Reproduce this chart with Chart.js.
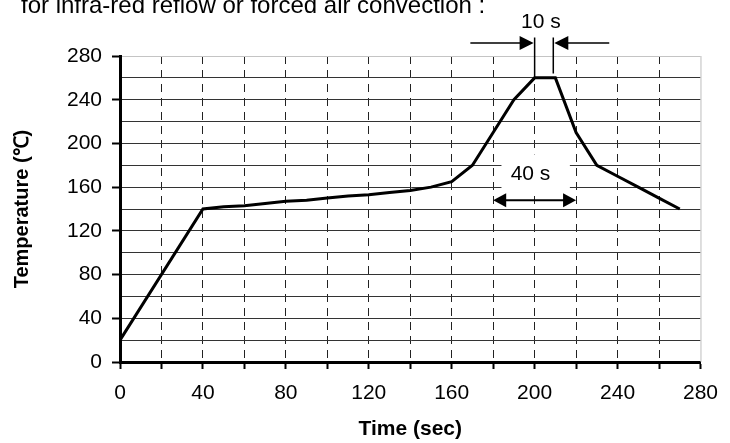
<!DOCTYPE html>
<html>
<head>
<meta charset="utf-8">
<script src="https://cdn.jsdelivr.net/npm/chart.js@4.4.1/dist/chart.umd.min.js"></script>
<style>
  html, body { margin: 0; padding: 0; background: #fff; }
</style>
</head>
<body>
<canvas id="myChart" width="730" height="443"></canvas>
<script>
// reflow profile
const timeSec = [0, 40, 50, 60, 70, 80, 90, 100, 110, 120, 130, 140, 150, 160, 170, 180, 190, 200, 210, 220, 230, 240, 250, 260, 270];
const tempC   = [20, 140, 142, 143, 145, 147, 148, 150, 152, 153, 155, 157, 160, 165, 180, 210, 240, 260, 260, 210, 180, 170, 160, 150, 140];

const xLabels = [0, 40, 80, 120, 160, 200, 240, 280];
const yLabels = [0, 40, 80, 120, 160, 200, 240, 280];

const headText = 'for infra-red reflow or forced air convection :';
const peakText = '10 s';
const spanText = '40 s';
const peakEdges = [200, 209];   // time at the two marker lines
const spanEdges = [180, 220];   // time span of the 40 s arrow

const FONT = '"Liberation Sans", Arial, sans-serif';

// arrow head helper
function arrowHead(ctx, tipX, y, dir, len, half) {
    ctx.beginPath();
    ctx.moveTo(tipX, y);
    ctx.lineTo(tipX - dir * len, y - half);
    ctx.lineTo(tipX - dir * len, y + half);
    ctx.closePath();
    ctx.fill();
}

const notes = {
    id: 'notes',
    beforeDatasetsDraw(chart) {
        const {ctx, scales: {x, y}} = chart;
        // white patch behind the "40 s" label
        ctx.save();
        ctx.fillStyle = '#fff';
        const l = x.getPixelForValue(184), r = x.getPixelForValue(217);
        const t = y.getPixelForValue(190), b = y.getPixelForValue(157);
        ctx.fillRect(l, t, r - l, b - t);
        ctx.restore();
    },
    afterDatasetsDraw(chart) {
        const {ctx, chartArea, scales: {x, y}} = chart;
        ctx.save();

        // light right frame
        ctx.strokeStyle = '#bdbdbd';
        ctx.lineWidth = 1;
        ctx.beginPath();
        ctx.moveTo(chartArea.right + 0.5, chartArea.top);
        ctx.lineTo(chartArea.right + 0.5, chartArea.bottom);
        ctx.stroke();

        ctx.fillStyle = '#000';
        ctx.strokeStyle = '#000';

        // heading, cut at the top edge
        ctx.font = '24px ' + FONT;
        ctx.textAlign = 'left';
        ctx.textBaseline = 'alphabetic';
        ctx.fillText(headText, 21, 13);

        // 10 s marker
        const p0 = x.getPixelForValue(peakEdges[0]);
        const p1 = x.getPixelForValue(peakEdges[1]);
        const topY = y.getPixelForValue(297);
        ctx.lineWidth = 1.5;
        ctx.beginPath();
        ctx.moveTo(p0, topY);
        ctx.lineTo(p0, y.getPixelForValue(260));
        ctx.moveTo(p1, topY);
        ctx.lineTo(p1, y.getPixelForValue(264));
        ctx.stroke();

        const ay = y.getPixelForValue(292);
        ctx.beginPath();
        ctx.moveTo(x.getPixelForValue(169), ay);
        ctx.lineTo(p0 - 10, ay);
        ctx.moveTo(x.getPixelForValue(236), ay);
        ctx.lineTo(p1 + 10, ay);
        ctx.stroke();
        arrowHead(ctx, p0 - 1, ay, 1, 14, 7);
        arrowHead(ctx, p1 + 1, ay, -1, 14, 7);

        ctx.font = '21px ' + FONT;
        ctx.textAlign = 'center';
        ctx.textBaseline = 'middle';
        ctx.fillText(peakText, x.getPixelForValue(203), 22);

        // 40 s span
        const s0 = x.getPixelForValue(spanEdges[0]);
        const s1 = x.getPixelForValue(spanEdges[1]);
        const sy = y.getPixelForValue(148);
        ctx.lineWidth = 2;
        ctx.beginPath();
        ctx.moveTo(s0 + 10, sy);
        ctx.lineTo(s1 - 10, sy);
        ctx.stroke();
        arrowHead(ctx, s0, sy, -1, 13, 7);
        arrowHead(ctx, s1, sy, 1, 13, 7);
        ctx.fillText(spanText, x.getPixelForValue(198), y.getPixelForValue(172));

        ctx.restore();
    }
};

const ctx = document.getElementById('myChart').getContext('2d');
const myChart = new Chart(ctx, {
    type: 'line',
    data: {
        datasets: [{
            data: timeSec.map((t, i) => ({x: t, y: tempC[i]})),
            borderColor: '#000',
            borderWidth: 3,
            pointRadius: 0,
            tension: 0,
            fill: false
        }]
    },
    options: {
        responsive: false,
        animation: false,
        devicePixelRatio: 1,
        layout: { padding: { left: 0, top: 56, right: 22, bottom: 0 } },
        plugins: { legend: { display: false }, tooltip: { enabled: false } },
        scales: {
            x: {
                type: 'linear',
                min: 0,
                max: 280,
                afterFit: s => { s.height = 81; },
                ticks: {
                    stepSize: 20,
                    autoSkip: false,
                    maxRotation: 0,
                    padding: 12,
                    color: '#000',
                    font: { family: FONT, size: 21 },
                    callback: v => xLabels.includes(v) ? String(v) : ''
                },
                grid: {
                    color: c => (c.tick && (c.tick.value === 0 || c.tick.value === 280)) ? 'rgba(0,0,0,0)' : '#222',
                    lineWidth: 1,
                    tickColor: '#000',
                    tickWidth: 2,
                    tickLength: 7
                },
                border: { display: true, color: '#000', width: 3, dash: [8, 6] },
                title: {
                    display: true,
                    text: 'Time (sec)',
                    color: '#000',
                    font: { family: FONT, size: 21, weight: 'bold' },
                    padding: { top: 0, bottom: 1 }
                }
            },
            y: {
                min: 0,
                max: 280,
                afterFit: s => { s.width = 120; },
                ticks: {
                    stepSize: 20,
                    autoSkip: false,
                    padding: 10,
                    color: '#000',
                    font: { family: FONT, size: 21 },
                    callback: v => yLabels.includes(v) ? String(v) : ''
                },
                grid: {
                    color: c => (c.tick && c.tick.value === 280) ? '#c4c4c4' : '#333',
                    lineWidth: 1,
                    tickColor: c => (c.tick && yLabels.includes(c.tick.value)) ? '#000' : 'rgba(0,0,0,0)',
                    tickWidth: 2,
                    tickLength: 8
                },
                border: { display: true, color: '#000', width: 3 },
                title: {
                    display: true,
                    text: 'Temperature (℃)',
                    color: '#000',
                    font: { family: FONT, size: 20, weight: 'bold' },
                    padding: { top: 10, bottom: 0 }
                }
            }
        }
    },
    plugins: [notes]
});
</script>
</body>
</html>
